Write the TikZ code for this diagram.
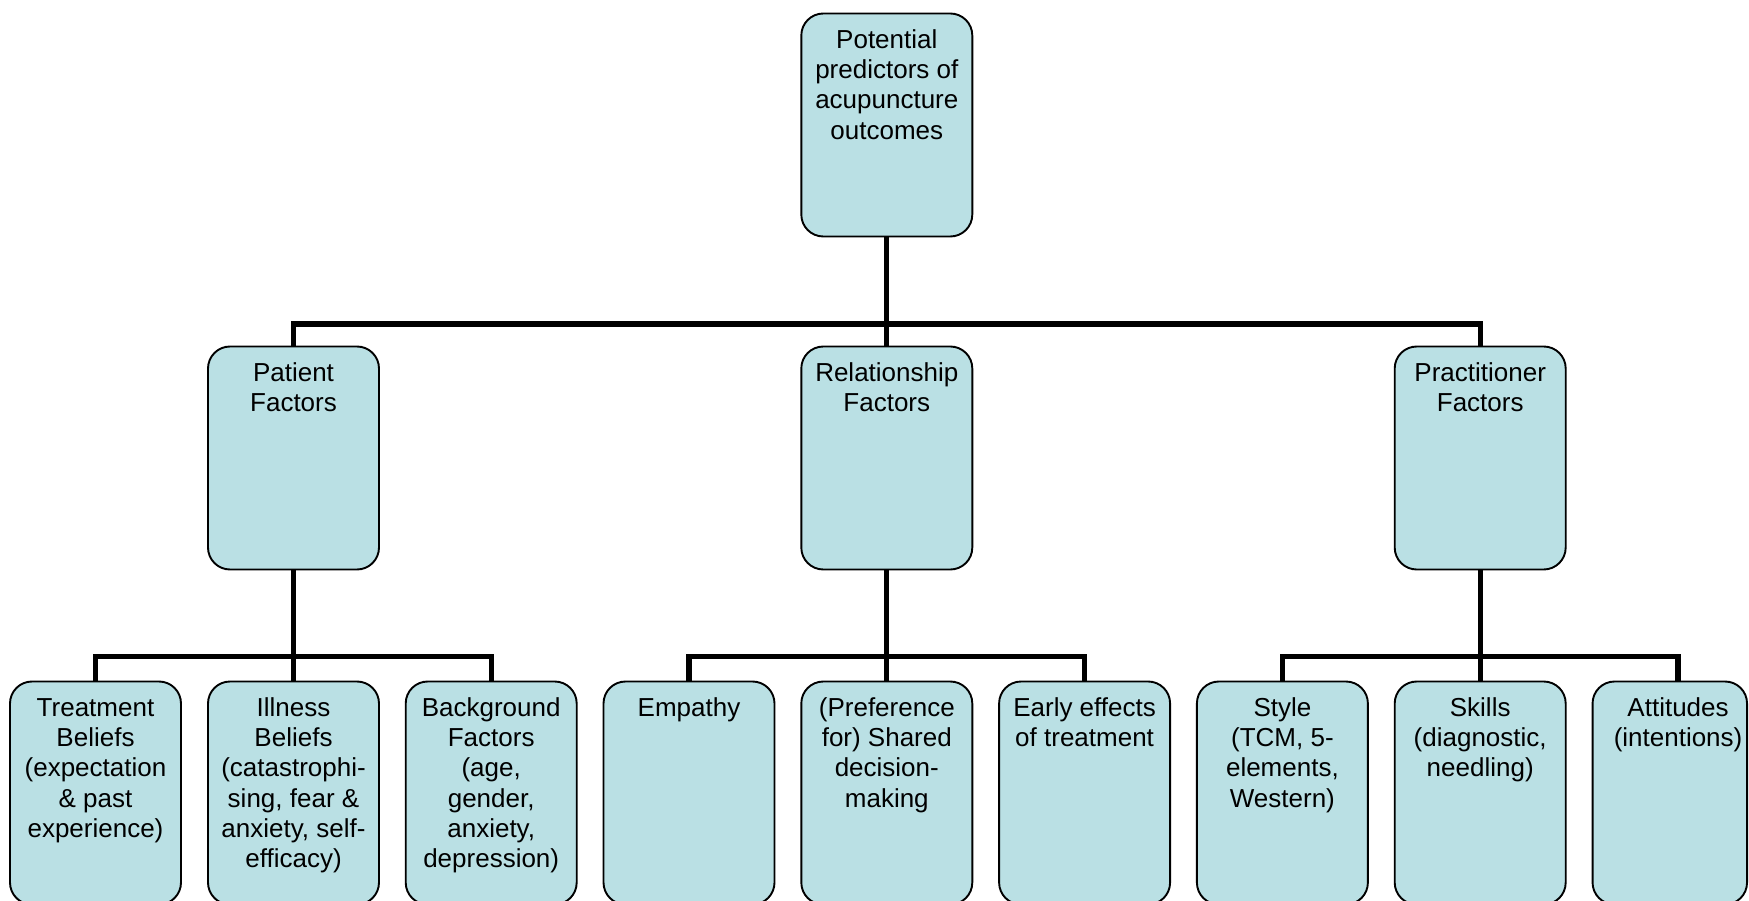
\documentclass[tikz,border=0pt]{standalone}
\usepackage{fontspec}
\setmainfont{Liberation Sans}
\usetikzlibrary{backgrounds}
\definecolor{boxfill}{RGB}{186,224,228}
\newcommand{\bxt}[2][171]{\parbox[c][223pt][t]{#1pt}{\centering\vspace*{13.5pt}\strut #2}}
\begin{document}
\begin{tikzpicture}[x=1pt,y=-1pt,
  box/.style={draw=black, line width=1.9pt, fill=boxfill, rounded corners=22pt,
    inner sep=0pt, outer sep=0pt, font=\fontsize{26}{30.3}\selectfont},
  conn/.style={line width=5.3pt, draw=black, line join=miter}]
\useasboundingbox (0,0) rectangle (1749,901);
% junction coordinates
\coordinate (j0) at (886.8,324);
\coordinate (j1) at (293.5,656.7);
\coordinate (j2) at (886.8,656.7);
\coordinate (j3) at (1480.2,656.7);
% nodes
\node[box] (top) at (886.8,125) {\bxt{Potential\\predictors of\\acupuncture\\outcomes}};
\node[box] (pat) at (293.5,458) {\bxt{Patient\\Factors}};
\node[box] (rel) at (886.8,458) {\bxt{Relationship\\Factors}};
\node[box] (pra) at (1480.2,458) {\bxt{Practitioner\\Factors}};
\node[box] (tb) at (95.5,793) {\bxt{Treatment\\Beliefs\\(expectation\\\& past\\experience)}};
\node[box] (ib) at (293.5,793) {\bxt{Illness\\Beliefs\\(catastrophi-\\sing, fear \&\\anxiety, self-\\efficacy)}};
\node[box] (bf) at (491.2,793) {\bxt{Background\\Factors\\(age,\\gender,\\anxiety,\\depression)}};
\node[box] (emp) at (689,793) {\bxt{Empathy}};
\node[box] (sdm) at (886.8,793) {\bxt{(Preference\\for) Shared\\decision-\\making}};
\node[box] (early) at (1084.6,793) {\bxt{Early effects\\of treatment}};
\node[box] (sty) at (1282.4,793) {\bxt{Style\\(TCM, 5-\\elements,\\Western)}};
\node[box] (ski) at (1480.2,793) {\bxt{Skills\\(diagnostic,\\needling)}};
\node[box] (att) at (1669.8,793) {\bxt[154.5]{\hspace*{16.5pt}Attitudes\\\hspace*{16.5pt}(intentions)}};
\coordinate (attn) at (1678,681.5);
% connectors (drawn behind boxes)
\begin{scope}[on background layer]
\draw[conn] (top.south) -- (j0);
\draw[conn] (j0) -| (pat.north);
\draw[conn] (j0) -| (pra.north);
\draw[conn] (j0) -- (rel.north);
\draw[conn] (pat.south) -- (j1);
\draw[conn] (j1) -| (tb.north);
\draw[conn] (j1) -| (bf.north);
\draw[conn] (j1) -- (ib.north);
\draw[conn] (rel.south) -- (j2);
\draw[conn] (j2) -| (emp.north);
\draw[conn] (j2) -| (early.north);
\draw[conn] (j2) -- (sdm.north);
\draw[conn] (pra.south) -- (j3);
\draw[conn] (j3) -| (sty.north);
\draw[conn] (j3) -| (attn);
\draw[conn] (j3) -- (ski.north);
\end{scope}
\end{tikzpicture}
\end{document}
